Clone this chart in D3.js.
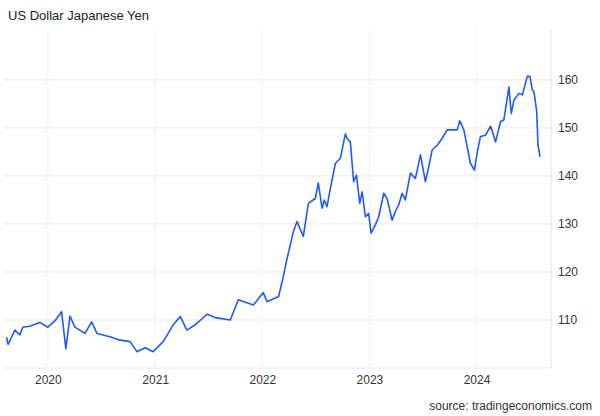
<!DOCTYPE html>
<html><head><meta charset="utf-8">
<script src="https://cdn.jsdelivr.net/npm/d3@7"></script>
<style>body{margin:0;background:#fff;font-family:Arial,"Liberation Sans",sans-serif}</style>
</head><body><svg id="c" width="600" height="416"></svg>
<script>
const years = [2019.614,2019.629,2019.692,2019.738,2019.766,2019.83,2019.925,2020.0,2020.065,2020.128,2020.168,2020.206,2020.252,2020.346,2020.408,2020.458,2020.579,2020.673,2020.766,2020.829,2020.907,2020.981,2021.075,2021.168,2021.234,2021.296,2021.374,2021.483,2021.561,2021.701,2021.776,2021.916,2022.009,2022.044,2022.152,2022.196,2022.224,2022.29,2022.324,2022.383,2022.43,2022.495,2022.523,2022.558,2022.579,2022.604,2022.636,2022.682,2022.729,2022.776,2022.792,2022.822,2022.853,2022.879,2022.91,2022.932,2022.963,2022.993,2023.016,2023.056,2023.087,2023.134,2023.165,2023.212,2023.243,2023.274,2023.306,2023.336,2023.383,2023.43,2023.477,2023.523,2023.554,2023.586,2023.633,2023.679,2023.726,2023.82,2023.844,2023.882,2023.944,2023.981,2024.007,2024.037,2024.084,2024.131,2024.178,2024.224,2024.255,2024.302,2024.324,2024.349,2024.395,2024.428,2024.474,2024.498,2024.52,2024.535,2024.561,2024.573,2024.592];
const values = [106.4,104.9,107.9,106.9,108.5,108.7,109.5,108.5,109.8,111.7,104,110.8,108.5,107.2,109.6,107.2,106.5,105.8,105.5,103.4,104.2,103.4,105.5,109,110.7,107.9,109,111.2,110.5,110,114.2,113.1,115.7,113.8,114.9,119,122.1,128.4,130.5,127.4,134.3,135.3,138.5,133.3,135,133.6,137.4,142.6,143.7,148.8,147.8,147.1,138.8,140.2,134.3,136.7,131.5,132.2,128.1,129.8,131.5,136.4,135.3,130.8,132.6,134,136.4,135,140.6,139.5,144.4,138.8,141.9,145.4,146.4,147.8,149.6,149.6,151.5,149.6,142.6,141.2,144.9,148.2,148.5,150.4,147.1,151.3,151.7,158.5,153,155.8,157.2,156.9,160.8,160.7,157.9,157.6,153.4,146.4,144];
const yTicks = [110,120,130,140,150,160];
const xTicks = [2020,2021,2022,2023,2024];

const svg = d3.select("#c");
const toDate = y => { const yr=Math.floor(y); const s=new Date(yr,0,1), e=new Date(yr+1,0,1); return new Date(+s+(y-yr)*(e-s)); };
const x = d3.scaleTime().domain([toDate(2019.6),toDate(2024.694)]).range([5,551]);
const y = d3.scaleLinear().domain([100,170.4]).range([368,30]);

svg.append("g").selectAll("line").data(yTicks).join("line")
 .attr("x1",5).attr("x2",551).attr("y1",d=>y(d)).attr("y2",d=>y(d)).attr("stroke","#e6e6e6");
svg.append("g").selectAll("line").data(xTicks).join("line")
 .attr("x1",d=>x(toDate(d))).attr("x2",d=>x(toDate(d))).attr("y1",30).attr("y2",368).attr("stroke","#eef0f3");
svg.append("line").attr("x1",5).attr("x2",551).attr("y1",368).attr("y2",368).attr("stroke","#e6e6e6");
svg.append("line").attr("x1",551).attr("x2",551).attr("y1",30).attr("y2",368).attr("stroke","#e6e6e6");

const ya = d3.axisRight(y).tickValues(yTicks).tickSize(0).tickPadding(7);
svg.append("g").attr("transform","translate(551,0)").call(ya).call(g=>g.select(".domain").remove())
 .selectAll("text").attr("font-size",12).attr("fill","#333").attr("font-family","Arial,'Liberation Sans',sans-serif");
const xa = d3.axisBottom(x).tickValues(xTicks.map(toDate)).tickFormat(d3.timeFormat("%Y")).tickSize(0).tickPadding(7);
svg.append("g").attr("transform","translate(0,368)").call(xa).call(g=>g.select(".domain").remove())
 .selectAll("text").attr("font-size",12).attr("fill","#333").attr("font-family","Arial,'Liberation Sans',sans-serif");

const data = years.map((d,i)=>({d:toDate(d),v:values[i]}));
svg.append("path").datum(data).attr("fill","none").attr("stroke","#1f5af6").attr("stroke-width",1.6)
 .attr("stroke-linejoin","round").attr("d",d3.line().x(d=>x(d.d)).y(d=>y(d.v)));

svg.append("text").attr("x",8).attr("y",20).attr("font-size",13).attr("fill","#222").text("US Dollar Japanese Yen");
svg.append("text").attr("x",592).attr("y",410).attr("text-anchor","end").attr("font-size",12).attr("fill","#333").text("source: tradingeconomics.com");
</script></body></html>
